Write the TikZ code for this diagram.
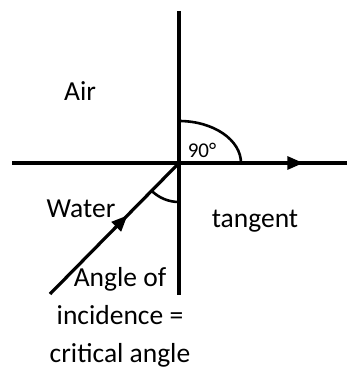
\documentclass[tikz,border=0pt]{standalone}
\usepackage{fontspec}
\setmainfont{Carlito}
\usetikzlibrary{arrows.meta, decorations.markings}

\begin{document}
\begin{tikzpicture}[
    x=1pt, y=-1pt,
    line/.style={line width=3.2pt},
    ray/.style={line width=3.2pt, postaction={decorate},
                decoration={markings, mark=at position #1 with {\arrow{Triangle[length=16pt, width=13pt]}}}},
    lbl/.style={font=\fontsize{27.5}{38}\selectfont, anchor=base, align=center},
    anglbl/.style={font=\fontsize{21}{22}\selectfont, anchor=base}
  ]
  \useasboundingbox (0,0) rectangle (347,369);

  \coordinate (O) at (179,163);
  \coordinate (top) at (179,11);
  \coordinate (bot) at (179,295);
  \coordinate (left) at (12,163);
  \coordinate (right) at (347,163);
  \coordinate (src) at (50,294);

  % normal and boundary
  \draw[line] (top) -- (bot);
  \draw[line] (left) -- (O);
  \draw[ray=0.74] (O) -- (right);

  % incident ray
  \draw[ray=0.6] (src) -- (O);

  % angles
  \draw[line width=2.6pt] (179,121) arc[start angle=270, end angle=360, x radius=62, y radius=42];
  \draw[line width=2.6pt] (179,202) arc[start angle=90, end angle=135, radius=39];

  \node[lbl] (air) at (80,100) {Air};
  \node[lbl] (water) at (81,217) {Water};
  \node[lbl] (tangent) at (255,227) {tangent};
  \node[lbl] (incid) at (120,362) {Angle of\\incidence =\\critical angle};
  \node[anglbl] (ninety) at (202,157) {90°};
\end{tikzpicture}
\end{document}
